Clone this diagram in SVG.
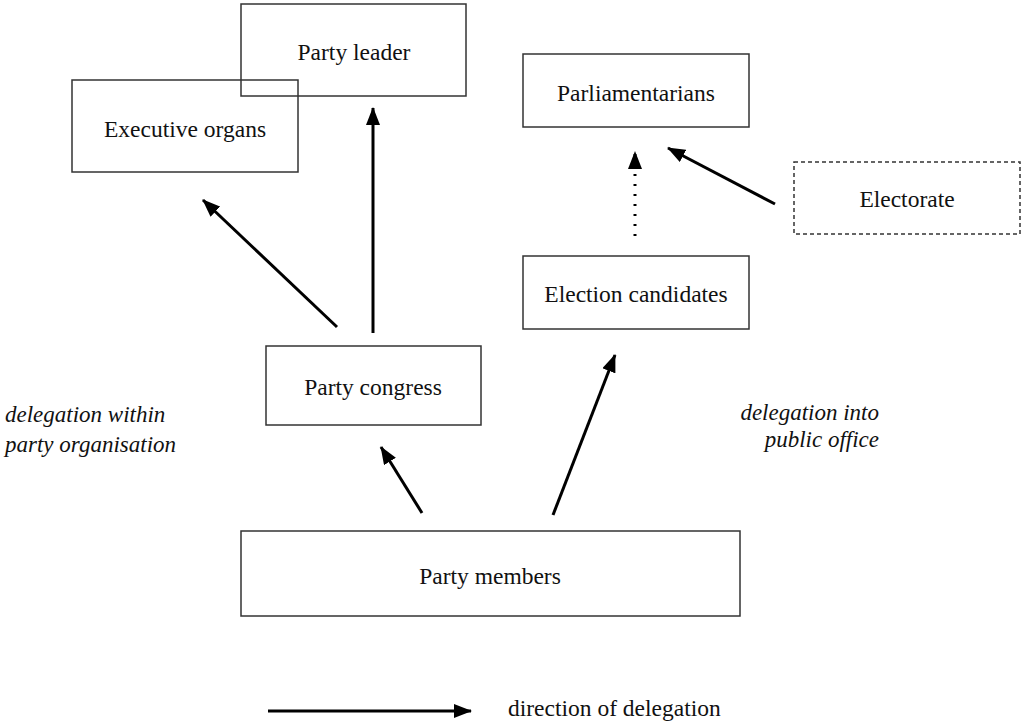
<svg xmlns="http://www.w3.org/2000/svg" width="1022" height="721" viewBox="0 0 1022 721">
<style>
.box{fill:#fff;stroke:#333;stroke-width:1.5}
.dash{fill:#fff;stroke:#333;stroke-width:1.5;stroke-dasharray:4,3}
.lbl{font-family:"Liberation Serif","Times New Roman",serif;font-size:23.5px;fill:#111;text-anchor:middle}
.it{font-family:"Liberation Serif","Times New Roman",serif;font-size:23px;font-style:italic;fill:#111}
.arr{stroke:#000;stroke-width:3;fill:none;marker-end:url(#ah)}
.dot{stroke:#000;stroke-width:3;fill:none;stroke-dasharray:2,8;marker-end:url(#ah)}
</style>
<defs>
<marker id="ah" markerUnits="userSpaceOnUse" markerWidth="18" markerHeight="14" viewBox="0 0 18 14" refX="17" refY="7" orient="auto">
<path d="M0,0 L18,7 L0,14 z" fill="#000"/>
</marker>
</defs>
<rect width="1022" height="721" fill="#fff"/>
<g id="executive-organs"><rect class="box" x="72" y="80" width="226" height="92"/><text class="lbl" x="185" y="137">Executive organs</text></g>
<g id="party-leader"><rect class="box" x="241" y="4" width="225" height="92" style="fill:none"/><text class="lbl" x="354" y="60">Party leader</text></g>
<g id="parliamentarians"><rect class="box" x="523" y="54" width="226" height="73"/><text class="lbl" x="636" y="101">Parliamentarians</text></g>
<g id="electorate"><rect class="dash" x="794" y="162" width="226" height="72"/><text class="lbl" x="907" y="207">Electorate</text></g>
<g id="election-candidates"><rect class="box" x="523" y="256" width="226" height="73"/><text class="lbl" x="636" y="302">Election candidates</text></g>
<g id="party-congress"><rect class="box" x="266" y="346" width="215" height="79"/><text class="lbl" x="373" y="395">Party congress</text></g>
<g id="party-members"><rect class="box" x="241" y="531" width="499" height="85"/><text class="lbl" x="490" y="584">Party members</text></g>
<g id="label-within"><text class="it" x="5" y="422">delegation within</text><text class="it" x="5" y="452">party organisation</text></g>
<g id="label-public"><text class="it" x="879" y="420" text-anchor="end">delegation into</text><text class="it" x="879" y="447" text-anchor="end">public office</text></g>
<g id="connectors">
<line class="arr" x1="373" y1="333" x2="373" y2="108"/>
<line class="arr" x1="337" y1="327" x2="203" y2="200"/>
<line class="arr" x1="422" y1="513" x2="381" y2="447"/>
<line class="arr" x1="553" y1="515" x2="615" y2="355"/>
<line class="dot" x1="635" y1="236" x2="635" y2="152"/>
<line class="arr" x1="775" y1="204" x2="668" y2="148"/>
<line class="arr" x1="268" y1="711" x2="471" y2="711"/>
</g>
<g id="legend"><text class="lbl" x="508" y="716" style="text-anchor:start">direction of delegation</text></g>
</svg>
